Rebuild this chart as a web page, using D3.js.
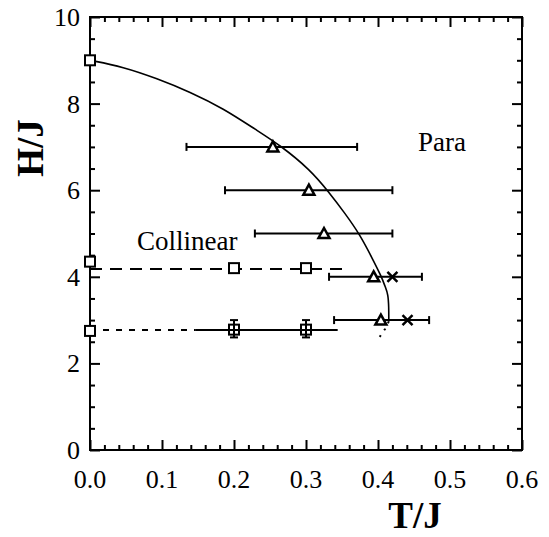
<!DOCTYPE html>
<html>
<head>
<meta charset="utf-8">
<script src="https://cdn.jsdelivr.net/npm/d3@7"></script>
</head>
<body style="margin:0">
<svg id="chart" width="549" height="537"></svg>
<script>
// ---- data ----
const xTicksMajor = [0, 0.1, 0.2, 0.3, 0.4, 0.5, 0.6];
const yTicksMajor = [0, 2, 4, 6, 8, 10];
const xTickLabels = ["0.0", "0.1", "0.2", "0.3", "0.4", "0.5", "0.6"];
const yTickLabels = ["0", "2", "4", "6", "8", "10"];

// phase boundary (solid part) [T, H]
const boundarySolid = [[0,9.0],[0.046,8.85],[0.093,8.58],[0.139,8.27],[0.185,7.89],[0.231,7.39],
  [0.264,7.04],[0.306,6.47],[0.331,5.97],[0.354,5.47],[0.375,4.97],[0.391,4.46],[0.405,4.0],
  [0.41,3.77],[0.414,3.6],[0.415,3.3],[0.415,2.97]];
// phase boundary (dotted tail)
const boundaryDotted = [[0.415,2.97],[0.41,2.8],[0.401,2.58]];

// triangles with horizontal error bars
const triH    = [7, 6, 5, 4, 3];
const triT    = [0.254, 0.304, 0.325, 0.394, 0.404];
const triTlo  = [0.134, 0.1875, 0.229, 0.332, 0.339];
const triThi  = [0.371, 0.420, 0.420, 0.461, 0.471];

// crosses
const crossT = [0.420, 0.441];
const crossH = [4, 3];

// open squares
const sqT = [0, 0, 0, 0.2, 0.3];
const sqH = [9.0, 4.35, 2.75, 4.2, 4.2];

// squares with vertical error bars
const sqErrT  = [0.2, 0.3];
const sqErrH  = [2.78, 2.78];
const sqErrLo = [2.6, 2.6];
const sqErrHi = [3.0, 3.0];

// horizontal lines
const dashedLine = [[0,4.18],[0.36,4.18]];
const dottedLine = [[0,2.77],[0.146,2.77]];
const solidLine  = [[0.146,2.77],[0.344,2.77]];

// ---- layout ----
const L = 90, R = 522, T = 17, B = 450;
const svg = d3.select("#chart");
const x = d3.scaleLinear().domain([0, 0.6]).range([L, R]);
const y = d3.scaleLinear().domain([0, 10]).range([B, T]);

const xMinor = d3.range(0, 0.6001, 0.02).filter(v => Math.abs(v*10 - Math.round(v*10)) > 1e-6);
const yMinor = d3.range(0, 10.001, 0.5).filter(v => Math.abs(v/2 - Math.round(v/2)) > 1e-6);

function styleAxis(g) {
  g.select(".domain").remove();
  g.selectAll(".tick line").attr("stroke", "#000").attr("stroke-width", 2);
}

// frame
svg.append("rect").attr("x", L).attr("y", T).attr("width", R - L).attr("height", B - T)
  .attr("fill", "none").attr("stroke", "#000").attr("stroke-width", 2);

// bottom
svg.append("g").attr("transform", `translate(0,${B})`)
  .call(d3.axisBottom(x).tickValues(xTicksMajor).tickSize(-10).tickFormat(""))
  .call(styleAxis);
svg.append("g").attr("transform", `translate(0,${B})`)
  .call(d3.axisBottom(x).tickValues(xMinor).tickSize(-5).tickFormat(""))
  .call(styleAxis);
// top
svg.append("g").attr("transform", `translate(0,${T})`)
  .call(d3.axisTop(x).tickValues(xTicksMajor).tickSize(-10).tickFormat(""))
  .call(styleAxis);
svg.append("g").attr("transform", `translate(0,${T})`)
  .call(d3.axisTop(x).tickValues(xMinor).tickSize(-5).tickFormat(""))
  .call(styleAxis);
// left
svg.append("g").attr("transform", `translate(${L},0)`)
  .call(d3.axisLeft(y).tickValues(yTicksMajor).tickSize(-10).tickFormat(""))
  .call(styleAxis);
svg.append("g").attr("transform", `translate(${L},0)`)
  .call(d3.axisLeft(y).tickValues(yMinor).tickSize(-5).tickFormat(""))
  .call(styleAxis);
// right
svg.append("g").attr("transform", `translate(${R},0)`)
  .call(d3.axisRight(y).tickValues(yTicksMajor).tickSize(-10).tickFormat(""))
  .call(styleAxis);
svg.append("g").attr("transform", `translate(${R},0)`)
  .call(d3.axisRight(y).tickValues(yMinor).tickSize(-5).tickFormat(""))
  .call(styleAxis);

// tick labels (own text elements, positioned by the scales)
xTicksMajor.forEach((v, i) => {
  svg.append("text").attr("x", x(v)).attr("y", B + 38).attr("text-anchor", "middle")
    .attr("font-size", 26).style("font-family", "'Liberation Serif'").text(xTickLabels[i]);
});
yTicksMajor.forEach((v, i) => {
  svg.append("text").attr("x", L - 10).attr("y", y(v) + 9).attr("text-anchor", "end")
    .attr("font-size", 26).style("font-family", "'Liberation Serif'").text(yTickLabels[i]);
});

// boundary
svg.append("path").attr("d", d3.line().x(d => x(d[0])).y(d => y(d[1])).curve(d3.curveBasis)(boundarySolid))
  .attr("fill", "none").attr("stroke", "#000").attr("stroke-width", 1.6);
svg.append("path").attr("d", d3.line().x(d => x(d[0])).y(d => y(d[1]))(boundaryDotted))
  .attr("fill", "none").attr("stroke", "#000").attr("stroke-width", 2).attr("stroke-dasharray", "2,6");

const lineLin = d3.line().x(d => x(d[0])).y(d => y(d[1]));
svg.append("path").attr("d", lineLin(dashedLine)).attr("fill", "none").attr("stroke", "#000")
  .attr("stroke-width", 2).attr("stroke-dasharray", "12,8");
svg.append("path").attr("d", lineLin(dottedLine)).attr("fill", "none").attr("stroke", "#000")
  .attr("stroke-width", 2).attr("stroke-dasharray", "6,7");
svg.append("path").attr("d", lineLin(solidLine)).attr("fill", "none").attr("stroke", "#000")
  .attr("stroke-width", 2);

// horizontal error bars for triangles
const capH = 4;
triH.forEach((h, i) => {
  const g = svg.append("g").attr("stroke", "#000").attr("stroke-width", 2);
  g.append("line").attr("x1", x(triTlo[i])).attr("x2", x(triThi[i])).attr("y1", y(h)).attr("y2", y(h));
  g.append("line").attr("x1", x(triTlo[i])).attr("x2", x(triTlo[i])).attr("y1", y(h) - capH).attr("y2", y(h) + capH);
  g.append("line").attr("x1", x(triThi[i])).attr("x2", x(triThi[i])).attr("y1", y(h) - capH).attr("y2", y(h) + capH);
});

// vertical error bars for squares
sqErrT.forEach((t, i) => {
  const g = svg.append("g").attr("stroke", "#000").attr("stroke-width", 2);
  g.append("line").attr("x1", x(t)).attr("x2", x(t)).attr("y1", y(sqErrLo[i])).attr("y2", y(sqErrHi[i]));
  g.append("line").attr("x1", x(t) - 4).attr("x2", x(t) + 4).attr("y1", y(sqErrLo[i])).attr("y2", y(sqErrLo[i]));
  g.append("line").attr("x1", x(t) - 4).attr("x2", x(t) + 4).attr("y1", y(sqErrHi[i])).attr("y2", y(sqErrHi[i]));
  svg.append("rect").attr("x", x(t) - 5).attr("y", y(sqErrH[i]) - 5).attr("width", 10).attr("height", 10)
    .attr("fill", "none").attr("stroke", "#000").attr("stroke-width", 2);
});

// open squares
sqT.forEach((t, i) => {
  svg.append("rect").attr("x", x(t) - 5).attr("y", y(sqH[i]) - 5).attr("width", 10).attr("height", 10)
    .attr("fill", "#fff").attr("stroke", "#000").attr("stroke-width", 2);
});

// triangles
const triPath = "M0,-5.5L5.5,4.5L-5.5,4.5Z";
triH.forEach((h, i) => {
  svg.append("path").attr("d", triPath).attr("transform", `translate(${x(triT[i])},${y(h)})`)
    .attr("fill", "#fff").attr("stroke", "#000").attr("stroke-width", 2.5).attr("stroke-linejoin", "miter");
});

// crosses
crossT.forEach((t, i) => {
  svg.append("path").attr("d", "M-5,-5L5,5M-5,5L5,-5")
    .attr("transform", `translate(${x(t)},${y(crossH[i])})`)
    .attr("stroke", "#000").attr("stroke-width", 2.5).attr("fill", "none");
});

// region labels
svg.append("text").attr("x", 418).attr("y", 151).attr("font-size", 27)
  .style("font-family", "'Liberation Serif'").text("Para");
svg.append("text").attr("x", 137).attr("y", 250).attr("font-size", 27)
  .style("font-family", "'Liberation Serif'").text("Collinear");

// axis titles
svg.append("text").attr("x", 415).attr("y", 528).attr("text-anchor", "middle").attr("font-size", 37)
  .attr("font-weight", "bold").style("font-family", "'Liberation Serif'").text("T/J");
svg.append("text").attr("transform", "translate(43,148) rotate(-90)").attr("text-anchor", "middle")
  .attr("font-size", 37).attr("font-weight", "bold").style("font-family", "'Liberation Serif'").text("H/J");
</script>
</body>
</html>
